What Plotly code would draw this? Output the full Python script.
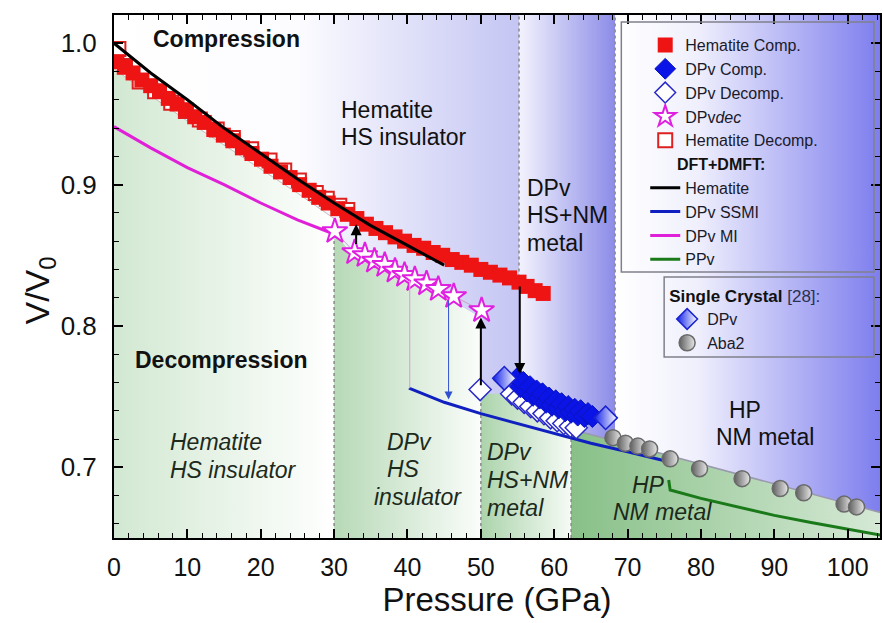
import plotly.graph_objects as go

# ---------------- data ----------------
hem_comp_p = [0.4, 1.4, 2.6, 3.8, 5.0, 6.2, 7.4, 8.6, 9.8, 11.0, 12.3, 13.6, 14.9, 16.2, 17.5, 18.8,
              20.1, 21.4, 22.7, 24.0, 25.3, 26.6, 27.9, 29.2, 30.5, 31.8, 33.1, 34.4, 35.7, 37.0,
              38.3, 39.6, 40.9, 42.2, 43.5, 44.8, 46.1, 47.4, 48.7, 50.0, 51.3, 52.6, 53.9, 55.2,
              56.3, 57.4, 58.5]
hem_comp_v = [0.987, 0.983, 0.979, 0.974, 0.970, 0.966, 0.961, 0.957, 0.953, 0.948, 0.944, 0.939,
              0.935, 0.931, 0.926, 0.922, 0.918, 0.913, 0.909, 0.905, 0.900, 0.896, 0.891, 0.887,
              0.883, 0.879, 0.876, 0.872, 0.869, 0.866, 0.863, 0.860, 0.857, 0.855, 0.852, 0.850,
              0.847, 0.845, 0.843, 0.840, 0.838, 0.836, 0.834, 0.831, 0.828, 0.825, 0.823]

hem_dec_p = [0.6, 1.5, 3.5, 5.6, 7.8, 9.8, 11.7, 14.0, 16.2, 18.7, 21.2, 23.2, 25.2, 27.5, 29.0, 30.7, 31.8]
hem_dec_v = [0.996, 0.984, 0.973, 0.966, 0.958, 0.952, 0.946, 0.939, 0.933, 0.925, 0.917, 0.910,
             0.903, 0.894, 0.890, 0.885, 0.882]

dpvdec_p = [30.1, 32.8, 34.2, 35.5, 36.9, 38.3, 39.6, 41.0, 42.6, 44.2, 46.3, 50.1]
dpvdec_v = [0.867, 0.852, 0.850, 0.846, 0.843, 0.839, 0.836, 0.833, 0.830, 0.826, 0.821, 0.811]

dpv_dec_p = [49.9, 53.3, 54.2, 55.0, 55.9, 56.8, 57.7, 58.6, 59.5, 60.4, 61.3, 62.2, 63.0]
dpv_dec_v = [0.755, 0.762, 0.752, 0.749, 0.746, 0.743, 0.740, 0.738, 0.735, 0.733, 0.731, 0.729, 0.728]

dpv_comp_p = [55.0, 55.4, 55.8, 56.3, 56.7, 57.1, 57.6, 58.0, 58.4, 58.9, 59.3, 59.7, 60.2, 60.6,
              61.0, 61.5, 61.9, 62.3, 62.8, 63.2, 63.6, 64.1, 64.6, 65.2]
dpv_comp_v = [0.763, 0.757, 0.760, 0.754, 0.757, 0.751, 0.754, 0.749, 0.752, 0.746, 0.749, 0.744,
              0.747, 0.742, 0.745, 0.740, 0.743, 0.739, 0.741, 0.737, 0.740, 0.736, 0.738, 0.736]

sc_dpv_p = [53.2, 67.0]
sc_dpv_v = [0.763, 0.735]

aba2_p = [68.0, 69.7, 71.4, 73.0, 75.8, 79.8, 85.6, 90.8, 94.0, 99.5, 101.2]
aba2_v = [0.721, 0.717, 0.715, 0.713, 0.706, 0.699, 0.692, 0.685, 0.682, 0.674, 0.672]

# DFT+DMFT curves
hem_dft_p = [0, 5, 10, 15, 20, 25, 30, 35, 40, 45]
hem_dft_v = [1.000, 0.979, 0.960, 0.940, 0.922, 0.904, 0.887, 0.871, 0.857, 0.843]
ssmi_p = [40.2, 45, 50, 55, 60, 65, 70, 75.6]
ssmi_v = [0.756, 0.746, 0.738, 0.731, 0.724, 0.717, 0.711, 0.704]
mi_p = [0, 5, 10, 15, 20, 25, 30.5]
mi_v = [0.941, 0.926, 0.912, 0.900, 0.887, 0.875, 0.864]
ppv_p = [75.6, 75.8, 80, 85, 90, 95, 100, 104.5]
ppv_v = [0.691, 0.684, 0.678, 0.672, 0.666, 0.661, 0.656, 0.652]

# phase-region boundaries (top edges of the decompression regions)
g1_p = [0, 5, 10, 15, 20, 25, 30]
g1_v = [0.982, 0.963, 0.945, 0.928, 0.911, 0.894, 0.876]
g2_p = [30, 30.7, 32.8, 35.5, 38.3, 41.0, 44.2, 46.3, 50]
g2_v = [0.862, 0.862, 0.848, 0.842, 0.835, 0.829, 0.822, 0.817, 0.806]
g3_p = [50, 53, 56, 59, 62.3]
g3_v = [0.752, 0.752, 0.744, 0.737, 0.727]
g4_p = [62.3, 104.5]
g4_v = [0.727, 0.668]

blue_edges = [0, 55.2, 68.3, 104.5]

# dotted phase boundaries: pressure, lower V, upper V
dot_p = [30, 50, 55.2, 62.3, 68.3]
dot_lo = [0.65, 0.65, 0.830, 0.65, 0.736]
dot_hi = [0.862, 0.752, 1.02, 0.727, 1.02]

# arrows: pressure, from V, to V
arrow_p = [33.0, 50.0, 55.3, 45.6, 40.3]
arrow_from = [0.857, 0.757, 0.829, 0.819, 0.833]
arrow_to = [0.872, 0.806, 0.766, 0.748, 0.756]

FONT = "Liberation Sans, Arial, sans-serif"
YMIN, YMAX = 0.65, 1.02

fig = go.Figure()

def poly(xs, ys, cs, start, stop):
    fig.add_trace(go.Scatter(x=xs, y=ys, mode="lines", fill="toself", line=dict(width=0),
                             fillgradient=dict(type="horizontal", colorscale=cs, start=start, stop=stop),
                             hoverinfo="skip", showlegend=False))

# blue (compression) strips
blue_scales = [
    [[0, "#ffffff"], [0.45, "#fcfcff"], [1, "#c4c5f3"]],
    [[0, "#f2f2fd"], [1, "#8a8ae8"]],
    [[0, "#ffffff"], [0.3, "#f0f0fd"], [1, "#7c7cee"]],
]
for i in range(3):
    a, b = blue_edges[i], blue_edges[i + 1]
    poly([a, b, b, a, a], [YMIN - 0.01, YMIN - 0.01, YMAX + 0.01, YMAX + 0.01, YMIN - 0.01],
         blue_scales[i], a, b)

# green (decompression) regions
greens = [
    (g1_p, g1_v, [[0, "#d2e8d2"], [1, "#ffffff"]]),
    (g2_p, g2_v, [[0, "#b7d9b7"], [1, "#fbfdfb"]]),
    (g3_p, g3_v, [[0, "#acd4ac"], [1, "#f6fbf6"]]),
    (g4_p, g4_v, [[0, "#88c088"], [1, "#d6e9d6"]]),
]
for gp, gv, cs in greens:
    xs = [gp[0]] + gp + [gp[-1], gp[0]]
    ys = [YMIN - 0.01] + gv + [YMIN - 0.01, YMIN - 0.01]
    poly(xs, ys, cs, gp[0], gp[-1])

fig.add_trace(go.Scatter(x=g1_p, y=g1_v, mode="lines", line=dict(color="#bdbdbd", width=1),
                         hoverinfo="skip", showlegend=False))
fig.add_trace(go.Scatter(x=g4_p, y=g4_v, mode="lines", line=dict(color="#9a9aae", width=1.5),
                         hoverinfo="skip", showlegend=False))

# dotted boundaries
for p, lo, hi in zip(dot_p, dot_lo, dot_hi):
    fig.add_trace(go.Scatter(x=[p, p], y=[lo, hi], mode="lines",
                             line=dict(color="#8a8a8a", width=1.5, dash="dot"),
                             hoverinfo="skip", showlegend=False))

# DFT+DMFT curves (except hematite, drawn over the squares)
fig.add_trace(go.Scatter(x=mi_p, y=mi_v, mode="lines", name="DPv MI",
                         line=dict(color="#e020d8", width=3), legendgroup="dft", legendrank=8))
fig.add_trace(go.Scatter(x=ssmi_p, y=ssmi_v, mode="lines", name="DPv SSMI",
                         line=dict(color="#1020c0", width=3), legendgroup="dft", legendrank=7))
fig.add_trace(go.Scatter(x=ppv_p, y=ppv_v, mode="lines", name="PPv",
                         line=dict(color="#1a7a1a", width=3), legendgroup="dft", legendrank=9))

# hematite data
fig.add_trace(go.Scatter(x=hem_dec_p, y=hem_dec_v, mode="markers", name="Hematite Decomp.",
                         marker=dict(symbol="square", size=14, color="white",
                                     line=dict(color="#dd2020", width=2)),
                         legendrank=5))
fig.add_trace(go.Scatter(x=hem_comp_p, y=hem_comp_v, mode="markers", name="Hematite Comp.",
                         marker=dict(symbol="square", size=15, color="#ee1414", line=dict(width=0)),
                         legendrank=1))
fig.add_trace(go.Scatter(x=hem_dft_p, y=hem_dft_v, mode="lines", name="Hematite",
                         line=dict(color="#000000", width=3), legendgroup="dft", legendrank=6,
                         legendgrouptitle=dict(text="&nbsp;&nbsp;&nbsp;&nbsp;&nbsp;&nbsp;<b>DFT+DMFT:</b>",
                                               font=dict(size=16, family=FONT, color="#111111"))))

# DPvdec stars
fig.add_trace(go.Scatter(x=dpvdec_p, y=dpvdec_v, mode="lines", line=dict(color="#c8a0c8", width=1),
                         hoverinfo="skip", showlegend=False))
fig.add_trace(go.Scatter(x=dpvdec_p, y=dpvdec_v, mode="markers", name="DPv<i>dec</i>",
                         marker=dict(symbol="star", size=19, color="white",
                                     line=dict(color="#e020e0", width=2)),
                         legendrank=4))

# DPv data
fig.add_trace(go.Scatter(x=dpv_dec_p, y=dpv_dec_v, mode="markers", name="DPv Decomp.",
                         marker=dict(symbol="diamond", size=17, color="white",
                                     line=dict(color="#2a2ac8", width=1.5)),
                         legendrank=3))
fig.add_trace(go.Scatter(x=dpv_comp_p, y=dpv_comp_v, mode="markers", name="DPv Comp.",
                         marker=dict(symbol="diamond", size=17, color="#0a14e6",
                                     line=dict(color="#0a14c0", width=1)),
                         legendrank=2))

# single crystal [28]
fig.add_trace(go.Scatter(x=sc_dpv_p, y=sc_dpv_v, mode="markers", name="DPv", legend="legend2",
                         marker=dict(symbol="diamond", size=18, color="#1020e8",
                                     gradient=dict(type="horizontal", color="#ffffff"),
                                     line=dict(color="#1a22d0", width=1.5)),
                         legendrank=1))
fig.add_trace(go.Scatter(x=aba2_p, y=aba2_v, mode="markers", name="Aba2", legend="legend2",
                         marker=dict(symbol="circle", size=16, color="#5e5e5e",
                                     gradient=dict(type="horizontal", color="#e8e8e8"),
                                     line=dict(color="#6a6a6a", width=1.5)),
                         legendrank=2))

# arrows
arrow_colors = ["#000000", "#000000", "#000000", "#3050d0", "#d8a8d4"]
arrow_widths = [2, 2, 2, 1, 1.2]
arrow_heads = [2, 2, 2, 2, 0]
for p, v0, v1, c, w, h in zip(arrow_p, arrow_from, arrow_to, arrow_colors, arrow_widths, arrow_heads):
    fig.add_annotation(x=p, y=v1, ax=p, ay=v0, xref="x", yref="y", axref="x", ayref="y",
                       text="", showarrow=True, arrowhead=h, arrowsize=1.1 if w > 1.5 else 1.6,
                       arrowwidth=w, arrowcolor=c, standoff=0, startstandoff=0)

# region labels
label_text = ["<b>Compression</b>", "Hematite", "HS insulator", "DPv", "HS+NM", "metal",
              "<b>Decompression</b>", "<i>Hematite</i>", "<i>HS insulator</i>",
              "<i>DPv</i>", "<i>HS</i>", "<i>insulator</i>",
              "<i>DPv</i>", "<i>HS+NM</i>", "<i>metal</i>",
              "<i>HP</i>", "<i>NM metal</i>", "HP", "NM metal"]
label_x = [15.3, 30.7, 30.7, 56.0, 56.0, 56.0, 2.6, 7.3, 7.3, 37.0, 37.0, 35.1, 50.5, 50.5, 50.5,
           70.3, 67.7, 83.6, 81.8]
label_y = [1.003, 0.9526, 0.934, 0.8974, 0.8783, 0.8585, 0.7757, 0.7176, 0.6978, 0.7176, 0.699,
           0.6787, 0.7105, 0.6907, 0.6709, 0.6872, 0.6681, 0.7403, 0.7212]
label_anchor = ["center"] + ["left"] * 18
for i, (t, x, y, a) in enumerate(zip(label_text, label_x, label_y, label_anchor)):
    italic = "<i>" in t
    fig.add_annotation(x=x, y=y, xref="x", yref="y", text=t, showarrow=False,
                       xanchor=a, yanchor="middle",
                       font=dict(family=FONT, size=23,
                                 color="#1c2a1c" if italic else "#111111"))

# y-axis title
fig.add_annotation(x=-0.128, y=0.474, xref="paper", yref="paper", text="V/V<sub>0</sub>",
                   showarrow=False, textangle=-90, font=dict(family=FONT, size=34, color="#111111"))

# legend boxes
fig.add_shape(type="rect", xref="paper", yref="paper", x0=0.6623, x1=0.9922, y0=0.5086, y1=0.9866,
              line=dict(color="#80808c", width=1.5), fillcolor="rgba(0,0,0,0)")
fig.add_shape(type="rect", xref="paper", yref="paper", x0=0.7182, x1=0.9922, y0=0.3461, y1=0.499,
              line=dict(color="#80808c", width=1.5), fillcolor="rgba(0,0,0,0)")

axis_common = dict(showgrid=False, zeroline=False, showline=True, linewidth=2, linecolor="black",
                   mirror="ticks", ticks="inside", ticklen=9, tickwidth=1.5, tickcolor="black")

fig.update_layout(
    width=884, height=623,
    margin=dict(l=114, r=2, t=15, b=85),
    paper_bgcolor="white", plot_bgcolor="white",
    font=dict(family=FONT, color="#111111"),
    xaxis=dict(range=[0, 104.4], dtick=10, tick0=0,
               minor=dict(dtick=2, ticks="inside", ticklen=5, tickwidth=1.2, tickcolor="black"),
               tickfont=dict(size=25, family=FONT), ticklabelstandoff=6,
               title=dict(text="Pressure (GPa)", font=dict(size=33, family=FONT), standoff=8),
               **axis_common),
    yaxis=dict(range=[YMIN, YMAX], dtick=0.1, tick0=0.7, tickformat=".1f",
               minor=dict(dtick=0.02, ticks="inside", ticklen=5, tickwidth=1.2, tickcolor="black"),
               tickfont=dict(size=26, family=FONT), ticklabelstandoff=10,
               **axis_common),
    legend=dict(x=0.6935, y=0.975, xanchor="left", yanchor="top", bgcolor="rgba(0,0,0,0)",
                borderwidth=0, font=dict(size=16, family=FONT, color="#1a1a2a"),
                tracegroupgap=0, traceorder="grouped", itemsizing="trace"),
    legend2=dict(x=0.7221, y=0.4933, xanchor="left", yanchor="top", bgcolor="rgba(0,0,0,0)",
                 borderwidth=0, font=dict(size=16, family=FONT, color="#1a1a2a"),
                 title=dict(text="<b>Single Crystal</b> <span style='color:#2a3050'>[28]:</span>",
                            font=dict(size=17, family=FONT, color="#111111"))),
    showlegend=True,
)

fig.write_html("out.html")
